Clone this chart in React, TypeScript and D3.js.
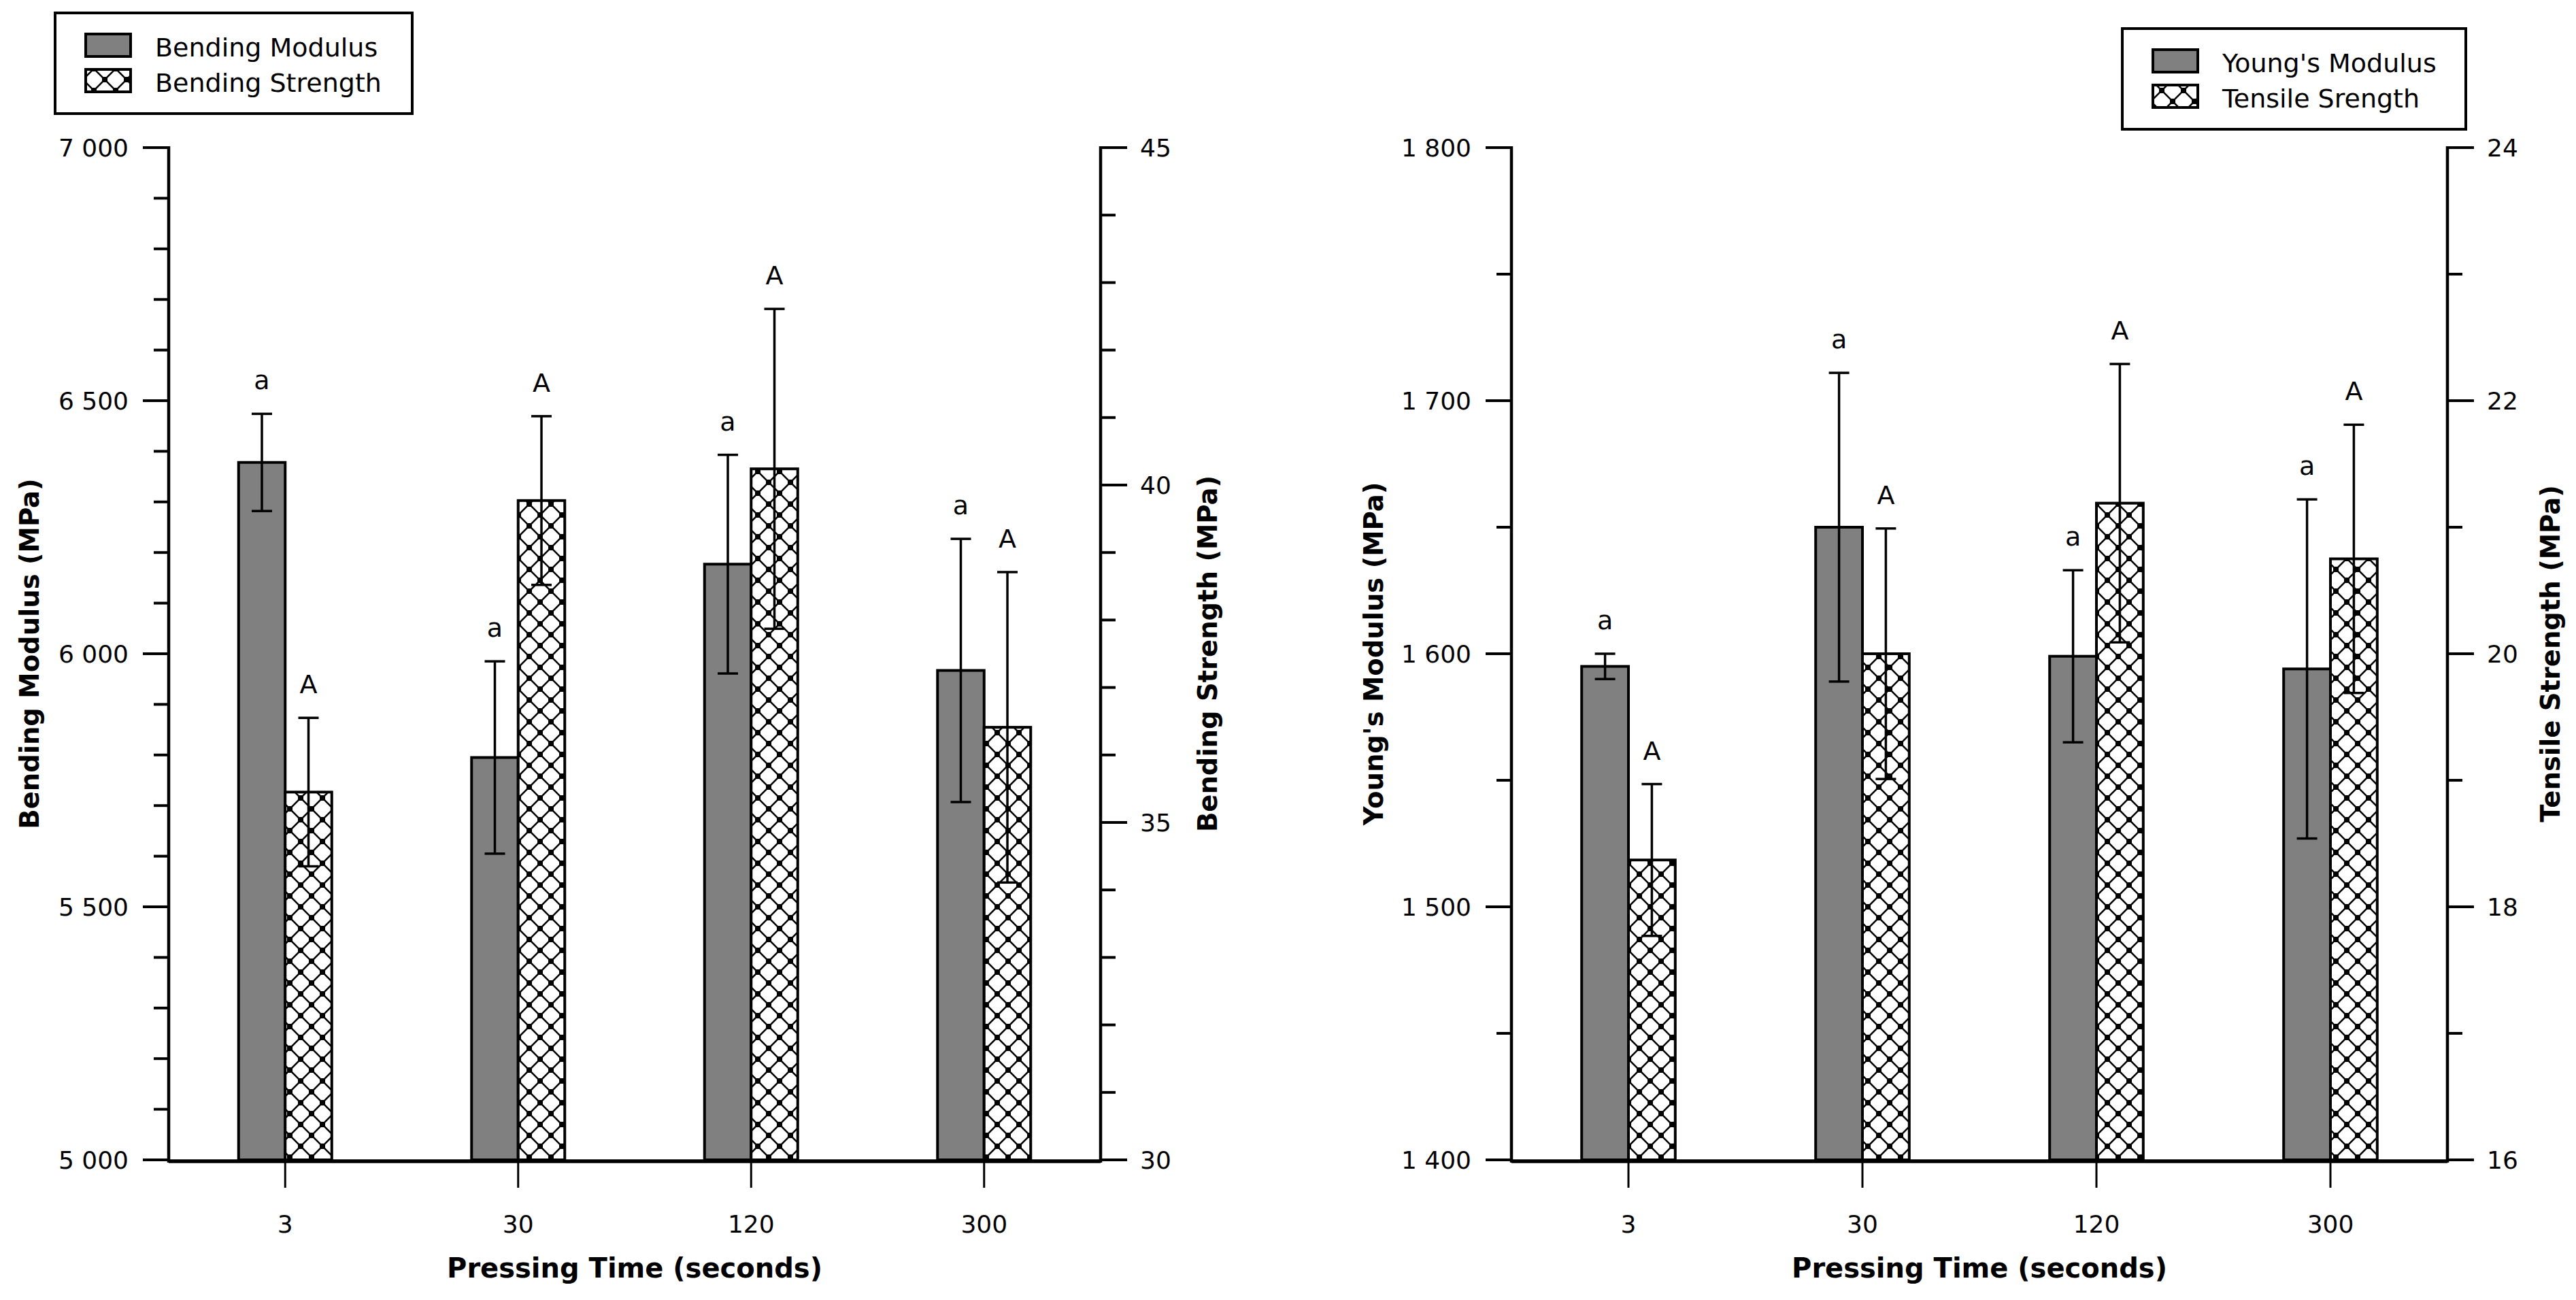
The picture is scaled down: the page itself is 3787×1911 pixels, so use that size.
import React from "react";
import * as d3 from "d3";

// ---------- data ----------
const categories = ["3", "30", "120", "300"];

const bendingModulus = [6378, 5795, 6177, 5967];
const bendingModulusErr = [96, 190, 216, 260];
const bendingStrength = [35.45, 39.77, 40.24, 36.41];
const bendingStrengthErr = [1.1, 1.25, 2.37, 2.3];

const youngsModulus = [1595, 1650, 1599, 1594];
const youngsModulusErr = [5, 61, 34, 67];
const tensileStrength = [18.37, 20.0, 21.19, 20.75];
const tensileStrengthErr = [0.6, 0.99, 1.1, 1.06];

const modulusLetters = ["a", "a", "a", "a"];
const strengthLetters = ["A", "A", "A", "A"];

const leftLegendLabels = ["Bending Modulus", "Bending Strength"];
const rightLegendLabels = ["Young's Modulus", "Tensile Srength"];

const xTitle = "Pressing Time (seconds)";

// ---------- layout ----------
const W = 3787;
const H = 1911;
const FONT = "DejaVu Sans";
const Y_TOP = 217;
const Y_BOT = 1705;
const X_AXIS_Y = 1707;

const fmt = (v: number) => d3.format(",")(v).replace(/,/g, " ");

type PanelProps = {
  id: string;
  x0: number;
  x1: number;
  leftDomain: [number, number];
  leftMajor: number;
  leftMinor: number;
  rightDomain: [number, number];
  rightMajor: number;
  rightMinor: number;
  leftVals: number[];
  leftErr: number[];
  rightVals: number[];
  rightErr: number[];
  leftTitle: string;
  rightTitle: string;
  leftTitleX: number;
  rightTitleX: number;
  legend: { x: number; y: number; w: number; h: number; labels: string[] };
};

function range(a: number, b: number, step: number) {
  const out: number[] = [];
  const n = Math.round((b - a) / step);
  for (let i = 0; i <= n; i++) out.push(a + i * step);
  return out;
}

function Panel(p: PanelProps) {
  const x = d3.scaleBand<string>().domain(categories).range([p.x0, p.x1]).padding(0);
  const yL = d3.scaleLinear().domain(p.leftDomain).range([Y_BOT, Y_TOP]);
  const yR = d3.scaleLinear().domain(p.rightDomain).range([Y_BOT, Y_TOP]);
  const bw = x.bandwidth() * 0.2;
  const hatch = `url(#hatch-${p.id})`;

  const leftMajors = range(p.leftDomain[0], p.leftDomain[1], p.leftMajor);
  const leftMinors = range(p.leftDomain[0], p.leftDomain[1], p.leftMinor).filter(
    (v) => !leftMajors.some((m) => Math.abs(m - v) < 1e-9)
  );
  const rightMajors = range(p.rightDomain[0], p.rightDomain[1], p.rightMajor);
  const rightMinors = range(p.rightDomain[0], p.rightDomain[1], p.rightMinor).filter(
    (v) => !rightMajors.some((m) => Math.abs(m - v) < 1e-9)
  );

  const midY = (Y_TOP + Y_BOT) / 2;
  const midX = (p.x0 + p.x1) / 2;
  const L = p.legend;

  const errBar = (cx: number, y0: number, y1: number, key: string) => (
    <g key={key} stroke="#000" strokeWidth={3.5}>
      <line x1={cx} x2={cx} y1={y0} y2={y1} />
      <line x1={cx - 15} x2={cx + 15} y1={y0} y2={y0} />
      <line x1={cx - 15} x2={cx + 15} y1={y1} y2={y1} />
    </g>
  );

  return (
    <g>
      <defs>
        <pattern id={`hatch-${p.id}`} patternUnits="userSpaceOnUse" width={32} height={32} x={10} y={5}>
          <rect width={32} height={32} fill="#fff" />
          <path d="M0,0 L32,32 M32,0 L0,32" stroke="#000" strokeWidth={2.6} />
          <rect x={-4} y={-4} width={8} height={8} fill="#000" />
          <rect x={28} y={-4} width={8} height={8} fill="#000" />
          <rect x={-4} y={28} width={8} height={8} fill="#000" />
          <rect x={28} y={28} width={8} height={8} fill="#000" />
          <rect x={12} y={12} width={8} height={8} fill="#000" />
        </pattern>
      </defs>

      {/* bars */}
      {categories.map((c, i) => {
        const cx = (x(c) as number) + x.bandwidth() / 2;
        return (
          <g key={`bars-${c}`}>
            <rect
              x={cx - bw}
              y={yL(p.leftVals[i])}
              width={bw}
              height={Y_BOT - yL(p.leftVals[i])}
              fill="#808080"
              stroke="#000"
              strokeWidth={4}
            />
            <rect
              x={cx}
              y={yR(p.rightVals[i])}
              width={bw}
              height={Y_BOT - yR(p.rightVals[i])}
              fill={hatch}
              stroke="#000"
              strokeWidth={4}
            />
          </g>
        );
      })}

      {/* error bars + letters */}
      {categories.map((c, i) => {
        const cx = (x(c) as number) + x.bandwidth() / 2;
        const lx = cx - bw / 2;
        const rx = cx + bw / 2;
        const lTop = yL(p.leftVals[i] + p.leftErr[i]);
        const lBot = yL(p.leftVals[i] - p.leftErr[i]);
        const rTop = yR(p.rightVals[i] + p.rightErr[i]);
        const rBot = yR(p.rightVals[i] - p.rightErr[i]);
        return (
          <g key={`err-${c}`}>
            {errBar(lx, lTop, lBot, "l")}
            {errBar(rx, rTop, rBot, "r")}
            <text x={lx} y={lTop - 36} textAnchor="middle" fontFamily={FONT} fontSize={38}>
              {modulusLetters[i]}
            </text>
            <text x={rx} y={rTop - 36} textAnchor="middle" fontFamily={FONT} fontSize={38}>
              {strengthLetters[i]}
            </text>
          </g>
        );
      })}

      {/* left axis */}
      <line x1={p.x0} x2={p.x0} y1={Y_TOP - 2} y2={X_AXIS_Y + 2} stroke="#000" strokeWidth={4.5} />
      {leftMajors.map((v) => (
        <g key={`lM-${v}`}>
          <line x1={p.x0 - 38} x2={p.x0} y1={yL(v)} y2={yL(v)} stroke="#000" strokeWidth={4} />
          <text
            x={p.x0 - 59}
            y={yL(v)}
            textAnchor="end"
            dominantBaseline="central"
            fontFamily={FONT}
            fontSize={36}
          >
            {fmt(v)}
          </text>
        </g>
      ))}
      {leftMinors.map((v) => (
        <line key={`lm-${v}`} x1={p.x0 - 22} x2={p.x0} y1={yL(v)} y2={yL(v)} stroke="#000" strokeWidth={4} />
      ))}

      {/* right axis */}
      <line x1={p.x1} x2={p.x1} y1={Y_TOP - 2} y2={X_AXIS_Y + 2} stroke="#000" strokeWidth={4.5} />
      {rightMajors.map((v) => (
        <g key={`rM-${v}`}>
          <line x1={p.x1} x2={p.x1 + 39} y1={yR(v)} y2={yR(v)} stroke="#000" strokeWidth={4} />
          <text
            x={p.x1 + 58}
            y={yR(v)}
            textAnchor="start"
            dominantBaseline="central"
            fontFamily={FONT}
            fontSize={36}
          >
            {fmt(v)}
          </text>
        </g>
      ))}
      {rightMinors.map((v) => (
        <line key={`rm-${v}`} x1={p.x1} x2={p.x1 + 22} y1={yR(v)} y2={yR(v)} stroke="#000" strokeWidth={4} />
      ))}

      {/* x axis */}
      <line x1={p.x0} x2={p.x1} y1={X_AXIS_Y} y2={X_AXIS_Y} stroke="#000" strokeWidth={5.5} />
      {categories.map((c) => {
        const cx = (x(c) as number) + x.bandwidth() / 2;
        return (
          <g key={`xt-${c}`}>
            <line x1={cx} x2={cx} y1={X_AXIS_Y} y2={X_AXIS_Y + 39} stroke="#000" strokeWidth={3} />
            <text x={cx} y={1812} textAnchor="middle" fontFamily={FONT} fontSize={36}>
              {c}
            </text>
          </g>
        );
      })}

      {/* titles */}
      <text x={midX} y={1878} textAnchor="middle" fontFamily={FONT} fontWeight="bold" fontSize={40}>
        {xTitle}
      </text>
      <text
        transform={`translate(${p.leftTitleX},${midY}) rotate(-90)`}
        textAnchor="middle"
        dominantBaseline="central"
        fontFamily={FONT}
        fontWeight="bold"
        fontSize={38.5}
      >
        {p.leftTitle}
      </text>
      <text
        transform={`translate(${p.rightTitleX},${midY}) rotate(-90)`}
        textAnchor="middle"
        dominantBaseline="central"
        fontFamily={FONT}
        fontWeight="bold"
        fontSize={38.5}
      >
        {p.rightTitle}
      </text>

      {/* legend */}
      <rect x={L.x} y={L.y} width={L.w} height={L.h} fill="#fff" stroke="#000" strokeWidth={4} />
      <rect x={L.x + 45} y={L.y + 31} width={66} height={33} fill="#808080" stroke="#000" strokeWidth={4} />
      <rect x={L.x + 45} y={L.y + 83} width={66} height={33} fill={hatch} stroke="#000" strokeWidth={4} />
      <text x={L.x + 147} y={L.y + 64} fontFamily={FONT} fontSize={38}>
        {L.labels[0]}
      </text>
      <text x={L.x + 147} y={L.y + 116} fontFamily={FONT} fontSize={38}>
        {L.labels[1]}
      </text>
    </g>
  );
}

export default function App() {
  return (
    <svg
      width={W}
      height={H}
      viewBox={`0 0 ${W} ${H}`}
      style={{ position: "absolute", left: 0, top: 0, background: "#fff" }}
    >
      <rect width={W} height={H} fill="#fff" />
      <Panel
        id="left"
        x0={248}
        x1={1618}
        leftDomain={[5000, 7000]}
        leftMajor={500}
        leftMinor={100}
        rightDomain={[30, 45]}
        rightMajor={5}
        rightMinor={1}
        leftVals={bendingModulus}
        leftErr={bendingModulusErr}
        rightVals={bendingStrength}
        rightErr={bendingStrengthErr}
        leftTitle="Bending Modulus (MPa)"
        rightTitle="Bending Strength (MPa)"
        leftTitleX={43}
        rightTitleX={1775}
        legend={{ x: 81, y: 19, w: 525, h: 148, labels: leftLegendLabels }}
      />
      <Panel
        id="right"
        x0={2222}
        x1={3598}
        leftDomain={[1400, 1800]}
        leftMajor={100}
        leftMinor={50}
        rightDomain={[16, 24]}
        rightMajor={2}
        rightMinor={1}
        leftVals={youngsModulus}
        leftErr={youngsModulusErr}
        rightVals={tensileStrength}
        rightErr={tensileStrengthErr}
        leftTitle="Young's Modulus (MPa)"
        rightTitle="Tensile Strength (MPa)"
        leftTitleX={2019}
        rightTitleX={3749}
        legend={{ x: 3120, y: 42, w: 505, h: 148, labels: rightLegendLabels }}
      />
    </svg>
  );
}
